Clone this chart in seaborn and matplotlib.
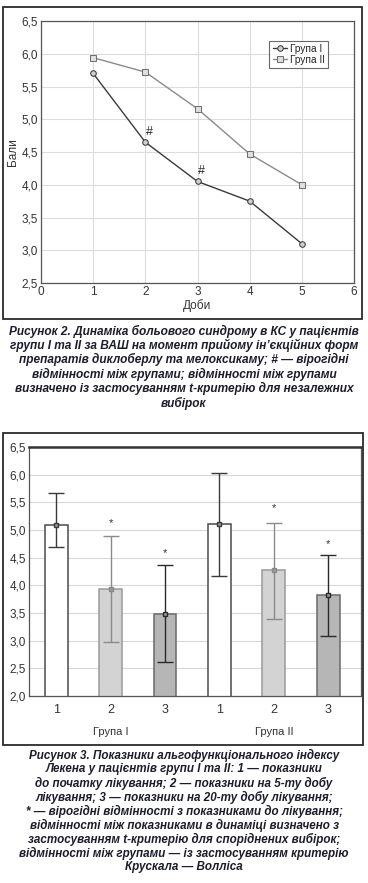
import matplotlib
matplotlib.use('Agg')
import matplotlib.pyplot as plt
import matplotlib.patches as mpatches
import matplotlib.transforms as mtransforms
from matplotlib.ticker import FuncFormatter
import pandas as pd
import seaborn as sns

# figure 2: pain dynamics (VAS)
days = [1, 2, 3, 4, 5]
group1_vas = [5.70, 4.65, 4.05, 3.75, 3.10]
group2_vas = [5.94, 5.72, 5.16, 4.47, 4.00]
hash_days = [2, 3]

# figure 3: Lequesne index
bar_labels = ['1', '2', '3', '1', '2', '3']
bar_groups = ['Група I', 'Група II']
bar_means = [5.09, 3.94, 3.48, 5.10, 4.27, 3.82]
bar_upper = [5.67, 4.90, 4.36, 6.03, 5.13, 4.55]
bar_lower = [4.69, 2.98, 2.62, 4.17, 3.40, 3.09]
star_y = [None, 5.13, 4.59, None, 5.39, 4.74]

caption2 = [
    'Рисунок 2. Динаміка больового синдрому в КС у пацієнтів',
    'групи I та II за ВАШ на момент прийому ін’єкційних форм',
    'препаратів диклоберлу та мелоксикаму; # — вірогідні',
    'відмінності між групами; відмінності між групами',
    'визначено із застосуванням t-критерію для незалежних',
    'вибірок',
]
caption3 = [
    'Рисунок 3. Показники альгофункціонального індексу',
    'Лекена у пацієнтів групи I та II: 1 — показники',
    'до початку лікування; 2 — показники на 5-ту добу',
    'лікування; 3 — показники на 20-ту добу лікування;',
    '* — вірогідні відмінності з показниками до лікування;',
    'відмінності між показниками в динаміці визначено з',
    'застосуванням t-критерію для споріднених вибірок;',
    'відмінності між групами — із застосуванням критерію',
    'Крускала — Волліса',
]

sns.set_style('white')
plt.rcParams['font.family'] = ['Liberation Sans', 'DejaVu Sans']

W, H = 368, 883
fig = plt.figure(figsize=(W / 100, H / 100), dpi=100)


def px_rect(x0, y0, x1, y1):
    return [x0 / W, 1 - y1 / H, (x1 - x0) / W, (y1 - y0) / H]


comma = FuncFormatter(lambda v, p: f'{v:.1f}'.replace('.', ','))

# frames around the two panels
for (x0, y0, x1, y1) in [(3, 7, 362, 319), (3, 433, 363, 745)]:
    fig.patches.append(mpatches.Rectangle((x0 / W, 1 - y1 / H), (x1 - x0) / W, (y1 - y0) / H,
                                          transform=fig.transFigure, fill=False,
                                          edgecolor='#2b2b2b', linewidth=1.3))

# ---- top panel ----
ax1 = fig.add_axes(px_rect(41, 21, 354, 283))
df_line = pd.DataFrame({'Доби': days * 2,
                        'Бали': group1_vas + group2_vas,
                        'Група': ['Група I'] * 5 + ['Група II'] * 5})
sns.lineplot(data=df_line[df_line['Група'] == 'Група I'], x='Доби', y='Бали', ax=ax1,
             color='#3a3a3a', marker='o', markersize=4, markerfacecolor='#d0d0d0',
             markeredgecolor='#3a3a3a', linewidth=1.0, label='Група I')
sns.lineplot(data=df_line[df_line['Група'] == 'Група II'], x='Доби', y='Бали', ax=ax1,
             color='#8a8a8a', marker='s', markersize=4, markerfacecolor='#e0e0e0',
             markeredgecolor='#707070', linewidth=1.0, label='Група II')
for d in hash_days:
    ax1.text(d + 0.07, group1_vas[days.index(d)] + 0.07, '#', fontsize=9,
             ha='center', va='bottom', color='#222222')
ax1.set_xlim(0, 6)
ax1.set_ylim(2.5, 6.5)
ax1.set_xticks(range(0, 7))
ax1.set_yticks([2.5, 3.0, 3.5, 4.0, 4.5, 5.0, 5.5, 6.0, 6.5])
ax1.yaxis.set_major_formatter(comma)
ax1.grid(True, color='#dcdcdc', linewidth=0.8)
ax1.tick_params(labelsize=8.5, colors='#333333', length=0, pad=2)
ax1.set_xlabel('Доби', fontsize=8.5, color='#333333', labelpad=1)
ax1.set_ylabel('Бали', fontsize=8.5, color='#333333', labelpad=2)
for s in ax1.spines.values():
    s.set_color('#555555')
    s.set_linewidth(0.9)
leg = ax1.legend(loc='upper left', bbox_to_anchor=(0.73, 0.925), fontsize=7.3,
                 frameon=True, fancybox=False, edgecolor='#444444', handlelength=1.4,
                 handletextpad=0.3, borderpad=0.3, labelspacing=0.1, borderaxespad=0)
leg.get_frame().set_linewidth(0.8)

# ---- bottom panel ----
ax2 = fig.add_axes(px_rect(29, 447, 361, 696))
bar_ids = [f'{g}{l}' for g in ['a', 'b'] for l in ['1', '2', '3']]
df_bar = pd.DataFrame({'id': bar_ids, 'mean': bar_means})
fills = ['#ffffff', '#d3d3d3', '#b6b6b6'] * 2
edges = ['#4a4a4a', '#9a9a9a', '#6a6a6a'] * 2
errc = ['#3a3a3a', '#8a8a8a', '#2a2a2a'] * 2
sns.barplot(data=df_bar, x='id', y='mean', hue='id', palette=dict(zip(bar_ids, fills)),
            width=0.42, errorbar=None, legend=False, ax=ax2, zorder=2)
for i, p in enumerate(ax2.patches):
    p.set_edgecolor(edges[i])
    p.set_linewidth(1.1)
for i in range(len(bar_means)):
    ax2.errorbar(i, bar_means[i],
                 yerr=[[bar_means[i] - bar_lower[i]], [bar_upper[i] - bar_means[i]]],
                 fmt='s', markersize=3, color=errc[i], ecolor=errc[i],
                 markerfacecolor='#999999', elinewidth=1.0, capsize=5.5, capthick=1.0, zorder=3)
    if star_y[i] is not None:
        ax2.text(i, star_y[i], '*', fontsize=8, ha='center', va='center', color='#333333')
ax2.set_ylim(2.0, 6.5)
ax2.set_xlim(-0.5, 5.6)
ax2.set_yticks([2.0, 2.5, 3.0, 3.5, 4.0, 4.5, 5.0, 5.5, 6.0, 6.5])
ax2.yaxis.set_major_formatter(comma)
ax2.set_xticks(range(6))
ax2.set_xticklabels(bar_labels)
ax2.grid(True, axis='y', color='#d8d8d8', linewidth=0.8, zorder=0)
ax2.set_axisbelow(True)
ax2.tick_params(axis='y', labelsize=8.5, colors='#333333', length=0, pad=2)
ax2.tick_params(axis='x', labelsize=9, colors='#333333', length=0, pad=6)
ax2.set_xlabel('')
ax2.set_ylabel('')
for s in ax2.spines.values():
    s.set_color('#555555')
    s.set_linewidth(0.9)
ax2.spines['top'].set_linewidth(1.8)
ax2.spines['top'].set_color('#333333')
blend = mtransforms.blended_transform_factory(ax2.transData, fig.transFigure)
for gx, g in zip([1, 4], bar_groups):
    ax2.text(gx, 1 - 732 / H, g, transform=blend, fontsize=8, ha='center',
             va='center', color='#333333')

# ---- captions: font size fitted so the widest line matches the reference width ----
cap_font = ['Liberation Sans', 'DejaVu Sans']
renderer = fig.canvas.get_renderer()


def caption(lines, y0, step, ref_line, ref_width):
    probe = fig.text(0, 0, lines[ref_line], fontsize=10, fontweight='bold',
                     fontstyle='italic', family=cap_font)
    size = 10 * ref_width / probe.get_window_extent(renderer).width
    probe.remove()
    for k, line in enumerate(lines):
        fig.text(0.5, 1 - (y0 + step * k) / H, line, ha='center', va='center',
                 fontsize=size, fontweight='bold', fontstyle='italic', family=cap_font,
                 color='#1c1c2c')


caption(caption2, 331, 14.4, 0, 352)
caption(caption3, 755, 14.0, 7, 330)

fig.savefig('out.png', dpi=100)
